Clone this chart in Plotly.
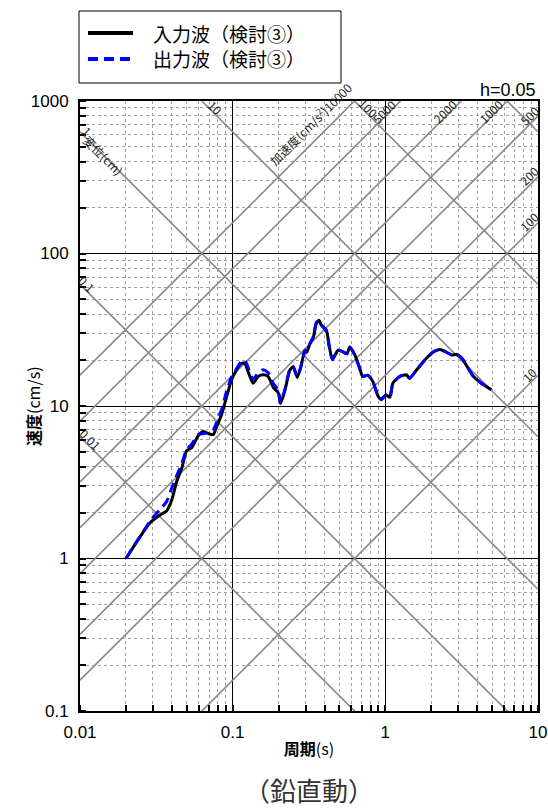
import numpy as np
import plotly.graph_objects as go

# ---------------- data ----------------
period_in = [0.020, 0.0287, 0.0334, 0.0369, 0.0399, 0.043, 0.0464, 0.050, 0.0537, 0.0596,
             0.0642, 0.0692, 0.0747, 0.0784, 0.0846, 0.0913, 0.0983, 0.106, 0.114, 0.120,
             0.126, 0.136, 0.147, 0.159, 0.171, 0.185, 0.199, 0.206, 0.220, 0.237,
             0.249, 0.265, 0.280, 0.297, 0.305, 0.320, 0.337, 0.354, 0.368, 0.380,
             0.410, 0.430, 0.450, 0.490, 0.530, 0.560, 0.585, 0.630, 0.680, 0.710,
             0.770, 0.830, 0.900, 0.940, 1.01, 1.07, 1.12, 1.24, 1.38, 1.44,
             1.60, 1.82, 2.06, 2.28, 2.50, 2.72, 2.94, 3.17, 3.50, 3.78, 4.26, 4.94]
vel_in = [1.00, 1.71, 1.93, 2.05, 2.42, 3.2, 3.9, 5.1, 5.3, 6.4,
          6.8, 6.6, 6.5, 7.3, 8.8, 11.5, 14.8, 17.2, 19.0, 19.0,
          16.9, 14.1, 15.6, 16.0, 15.6, 13.2, 12.2, 10.4, 12.7, 17.2,
          18.1, 15.4, 18.1, 23.0, 22.5, 25.5, 28.0, 35.0, 36.5, 34.0,
          31.6, 24.4, 20.1, 23.2, 22.6, 22.0, 24.4, 21.7, 17.6, 15.6,
          15.9, 14.4, 11.5, 11.1, 11.8, 11.4, 14.1, 15.6, 16.0, 15.2,
          17.2, 20.1, 22.6, 23.5, 22.6, 21.6, 21.8, 20.6, 17.6, 15.6, 14.1, 12.8]
period_out = period_in
vel_out = [1.00, 1.75, 2.10, 2.36, 2.90, 3.5, 4.2, 5.2, 5.6, 6.5,
           6.6, 6.7, 7.0, 7.8, 9.5, 12.5, 15.5, 17.6, 19.6, 20.0,
           18.0, 15.0, 16.5, 17.3, 16.5, 14.0, 12.8, 10.5, 12.9, 17.4,
           18.2, 15.6, 18.2, 23.2, 22.6, 25.5, 28.5, 35.5, 36.0, 34.0,
           31.0, 24.2, 20.3, 23.3, 22.6, 22.0, 24.4, 21.6, 17.6, 15.7,
           15.9, 14.4, 11.4, 11.0, 11.8, 11.4, 14.0, 15.6, 16.0, 15.2,
           17.2, 20.1, 22.6, 23.5, 22.6, 21.6, 21.8, 20.6, 17.6, 15.6, 14.1, 12.8]

disp_lines = [0.01, 0.1, 1, 10, 100, 1000]          # cm
acc_lines = [10, 100, 200, 500, 1000, 2000, 5000, 10000]  # cm/s^2

x_range = [0.01, 10]
y_range = [0.1, 1000]
x_tickvals = [0.01, 0.1, 1, 10]
x_ticktext = ["0.01", "0.1", "1", "10"]
y_tickvals = [0.1, 1, 10, 100, 1000]
y_ticktext = ["0.1", "1", "10", "100", "1000"]

legend_names = ["入力波（検討③）", "出力波（検討③）"]

# ---------------- figure ----------------
W, H = 548, 810
ML, MR, MT, MB = 80, 10, 101, 99
PW, PH = W - ML - MR, H - MT - MB
PXD = PW / 3.0   # pixels per decade (x)
PYD = PH / 4.0   # pixels per decade (y)
TWOPI = 2 * np.pi
CJK = "Noto Sans CJK JP, Liberation Sans, Arial, sans-serif"
NUM = "Liberation Sans, Arial, sans-serif"


def px_x(px):  # page pixel -> paper x
    return (px - ML) / PW


def px_y(py):  # page pixel -> paper y
    return (H - MB - py) / PH


fig = go.Figure()
T_ends = np.array(x_range, dtype=float)
for d in disp_lines:
    fig.add_trace(go.Scatter(x=T_ends, y=TWOPI * d / T_ends, mode="lines",
                             line=dict(color="#888888", width=1.6),
                             showlegend=False, hoverinfo="skip"))
for a in acc_lines:
    fig.add_trace(go.Scatter(x=T_ends, y=a * T_ends / TWOPI, mode="lines",
                             line=dict(color="#888888", width=1.6),
                             showlegend=False, hoverinfo="skip"))

line_styles = [dict(color="black", width=3, shape="spline", smoothing=0.6),
               dict(color="#0000ff", width=3, dash="10px,6px", shape="spline", smoothing=0.6)]
fig.add_trace(go.Scatter(x=period_in, y=vel_in, mode="lines", name=legend_names[0],
                         line=line_styles[0], showlegend=False))
fig.add_trace(go.Scatter(x=period_out, y=vel_out, mode="lines", name=legend_names[1],
                         line=line_styles[1], showlegend=False))

# ---------------- labels on the diagonal lines ----------------
lab_font = dict(family=CJK, size=12, color="#222222")
ann = []
shapes = []


def on_disp_x(d, dx_px_from_left):
    t = 10 ** (np.log10(x_range[0]) + dx_px_from_left / PXD)
    return t, TWOPI * d / t


def on_acc_x(a, dx_px_from_left):
    t = 10 ** (np.log10(x_range[0]) + dx_px_from_left / PXD)
    return t, a * t / TWOPI


def on_acc_top(a, dy_px_below_top):
    v = 10 ** (np.log10(y_range[1]) - dy_px_below_top / PYD)
    return TWOPI * v / a, v


def on_disp_top(d, dy_px_below_top):
    v = 10 ** (np.log10(y_range[1]) - dy_px_below_top / PYD)
    return TWOPI * d / v, v


def add_label(txt, t, v, angle, xs=0, ys=0):
    ann.append(dict(x=np.log10(t), y=np.log10(v), xref="x", yref="y", text=txt,
                    showarrow=False, textangle=angle, font=lab_font,
                    xshift=xs, yshift=ys))


# displacement labels (left edge)
for d, txt in zip([1, 0.1, 0.01], ["1", "0.1", "0.01"]):
    t, v = on_disp_x(d, 7 if txt != "0.01" else 10)
    add_label(txt, t, v, 45, 0, 8)
t, v = on_disp_x(1, 21)
add_label("変位(cm)", t, v, 45, 2, -2)
# displacement labels (top edge)
for d, txt in zip([10, 100], ["10", "100"]):
    t, v = on_disp_top(d, 14)
    add_label(txt, t, v, 45, 0, 8)
# acceleration labels (top edge)
t, v = on_acc_top(10000, 31)
add_label("加速度(cm/s<sup>2</sup>)10000", t, v, -45, -13, 9)
for a in [5000, 2000, 1000]:
    t, v = on_acc_top(a, 12)
    add_label(str(a), t, v, -45, -5, 2)
# acceleration labels (right edge)
for a in [500, 200, 100, 10]:
    t, v = on_acc_x(a, PW - 9)
    add_label(str(a), t, v, -45, 0, 10)

# ---------------- legend (box, samples, texts) ----------------
leg_box = dict(x0=79, x1=341, y0=11, y1=83)
shapes.append(dict(type="rect", xref="paper", yref="paper",
                   x0=px_x(leg_box["x0"]), x1=px_x(leg_box["x1"]),
                   y0=px_y(leg_box["y1"]), y1=px_y(leg_box["y0"]),
                   line=dict(color="black", width=1), fillcolor="white", layer="above"))
for i, (name, st) in enumerate(zip(legend_names, line_styles)):
    yrow = 33 + 26 * i
    shapes.append(dict(type="line", xref="paper", yref="paper",
                       x0=px_x(88), x1=px_x(133), y0=px_y(yrow), y1=px_y(yrow),
                       line=dict(color=st["color"], width=4,
                                 dash="10px,6px" if "dash" in st else "solid"),
                       layer="above"))
    ann.append(dict(x=px_x(151), y=px_y(yrow), xref="paper", yref="paper", text=name,
                    showarrow=False, xanchor="left", yanchor="middle",
                    font=dict(family=CJK, size=19, color="black")))

# ---------------- other texts ----------------
ann.append(dict(x=1, y=1, xref="paper", yref="paper", text="h=0.05", showarrow=False,
                xanchor="right", yanchor="bottom", yshift=-1,
                font=dict(family=NUM, size=18, color="black")))
ann.append(dict(x=0.5, y=-0.128, xref="paper", yref="paper", text="（鉛直動）",
                showarrow=False, xanchor="center", yanchor="middle",
                font=dict(family=CJK, size=26, color="#333333")))
# y axis title
ann.append(dict(x=px_x(33), y=0.5, xref="paper", yref="paper",
                text="<b>速度</b>(cm/s)", showarrow=False, textangle=-90,
                xanchor="center", yanchor="middle",
                font=dict(family=CJK, size=16, color="black")))

axis_common = dict(
    type="log", showline=True, linecolor="black", linewidth=2, mirror=True,
    showgrid=True, gridcolor="black", gridwidth=1.3, ticks="", zeroline=False,
    tickfont=dict(family=NUM, size=17, color="black"),
    minor=dict(dtick="D1", showgrid=True, gridcolor="#a0a0a0", griddash="dot",
               gridwidth=1, ticks="inside", ticklen=6, tickcolor="black", tickwidth=1.5),
)

fig.update_layout(
    width=W, height=H,
    margin=dict(l=ML, r=MR, t=MT, b=MB, autoexpand=False),
    paper_bgcolor="white", plot_bgcolor="white",
    xaxis=dict(axis_common, range=[np.log10(x_range[0]), np.log10(x_range[1])],
               tickvals=x_tickvals, ticktext=x_ticktext, ticklabelstandoff=5,
               title=dict(text="<b>周期</b>(s)", font=dict(family=CJK, size=16, color="black"),
                          standoff=2)),
    yaxis=dict(axis_common, range=[np.log10(y_range[0]), np.log10(y_range[1])],
               tickvals=y_tickvals, ticktext=y_ticktext, ticklabelstandoff=6),
    annotations=ann,
    shapes=shapes,
    showlegend=False,
)

fig.write_html("out.html", config={"displayModeBar": False},
               post_script="document.body.style.margin='0';document.body.style.padding='0';")
